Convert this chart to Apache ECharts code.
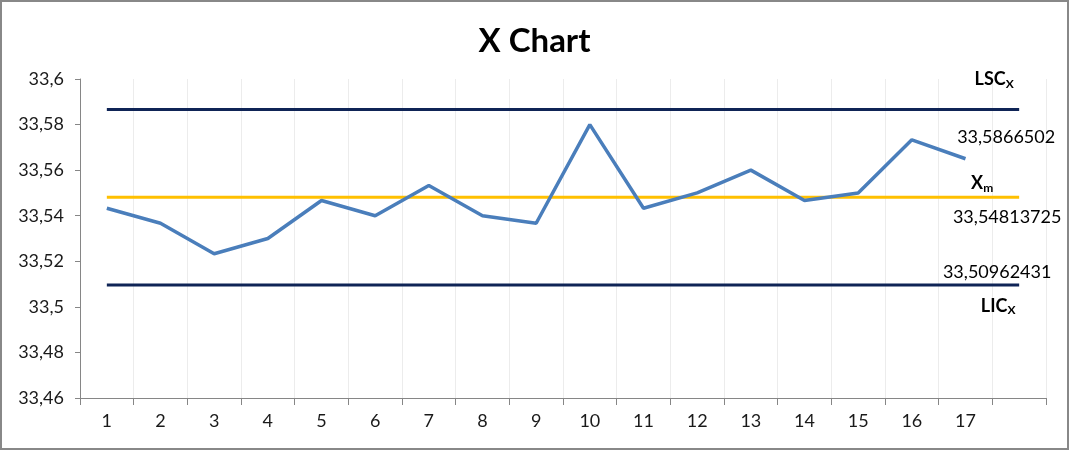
<!DOCTYPE html>
<html>
<head>
<meta charset="utf-8">
<script src="https://cdn.jsdelivr.net/npm/echarts@6/dist/echarts.min.js"></script>
<style>
html,body{margin:0;padding:0;background:#fff;}
#c{width:1069px;height:450px;}
</style>
</head>
<body>
<div id="c"></div>
<script>
const CATEGORIES = ['1','2','3','4','5','6','7','8','9','10','11','12','13','14','15','16','17',''];
const X_VALUES = [33.5433, 33.5367, 33.5233, 33.53, 33.5467, 33.54, 33.5533, 33.54, 33.5367, 33.58, 33.5433, 33.55, 33.56, 33.5467, 33.55, 33.5733, 33.565];
const LSC = 33.5866502;
const XM = 33.54813725;
const LIC = 33.50962431;
const LSC_LABEL = '33,5866502';
const XM_LABEL = '33,54813725';
const LIC_LABEL = '33,50962431';
const Y_MIN = 33.46, Y_MAX = 33.6, Y_STEP = 0.02;

const FONT = 'Lato';
const lastIdx = CATEGORIES.length - 1;
const rich = {
  b: {fontFamily: FONT, fontSize: 18, fontWeight: 'bold', color: '#000', lineHeight: 22},
  s: {fontFamily: FONT, fontSize: 12, fontWeight: 'bold', color: '#000', lineHeight: 22, padding: [9, 0, 0, 0]}
};
function pt(value, text, offset, isName) {
  return {
    coord: [lastIdx, value],
    symbol: 'circle', symbolSize: 0,
    label: {
      show: true, position: 'inside', offset: offset,
      formatter: text,
      fontFamily: FONT, fontSize: 18, color: '#000',
      rich: isName ? rich : undefined
    }
  };
}
function ctrlSeries(name, value, color, points) {
  return {
    name: name, type: 'line', data: CATEGORIES.map(() => value),
    symbol: 'none', lineStyle: {color: color, width: 3}, silent: true,
    z: 2,
    markPoint: {silent: true, data: points}
  };
}

const chart = echarts.init(document.getElementById('c'));
chart.setOption({
  animation: false,
  backgroundColor: '#fff',
  title: {
    text: 'X Chart', left: 'center', top: 20,
    textStyle: {fontFamily: FONT, fontSize: 33, fontWeight: 'bold', color: '#000'}
  },
  grid: {left: 80, right: 23, top: 79, bottom: 52},
  xAxis: {
    type: 'category', data: CATEGORIES, boundaryGap: true,
    axisLine: {lineStyle: {color: '#868686', width: 1}},
    axisTick: {show: true, alignWithLabel: false, length: 7, lineStyle: {color: '#868686'}},
    axisLabel: {fontFamily: FONT, fontSize: 18, color: '#1a1a1a', margin: 14, interval: 0},
    splitLine: {show: true, interval: 0, lineStyle: {color: '#ececec', width: 1}}
  },
  yAxis: {
    type: 'value', min: Y_MIN, max: Y_MAX, interval: Y_STEP,
    axisLine: {show: true, lineStyle: {color: '#868686', width: 1}},
    axisTick: {show: true, length: 5, lineStyle: {color: '#868686'}},
    axisLabel: {
      fontFamily: FONT, fontSize: 18, color: '#1a1a1a', margin: 16,
      formatter: v => String(parseFloat(v.toFixed(4))).replace('.', ',')
    },
    splitLine: {show: false}
  },
  graphic: [{
    type: 'rect', shape: {x: 1, y: 1, width: 1067, height: 448},
    style: {fill: 'none', stroke: '#888', lineWidth: 2}, z: 100, silent: true
  }],
  series: [
    ctrlSeries('LSC', LSC, '#0f2456', [
      pt(LSC, '{b|LSC}{s|X}', [-25, -30], true),
      pt(LSC, LSC_LABEL, [-13, 28], false)
    ]),
    ctrlSeries('Xm', XM, '#ffc000', [
      pt(XM, '{b|X}{s|m}', [-37, -14], true),
      pt(XM, XM_LABEL, [-12, 20], false)
    ]),
    ctrlSeries('LIC', LIC, '#0f2456', [
      pt(LIC, LIC_LABEL, [-22, -13], false),
      pt(LIC, '{b|LIC}{s|X}', [-21, 21], true)
    ]),
    {
      name: 'X', type: 'line', data: X_VALUES, symbol: 'none',
      lineStyle: {color: '#4a7ebb', width: 3.5}, z: 5
    }
  ]
});
</script>
</body>
</html>
